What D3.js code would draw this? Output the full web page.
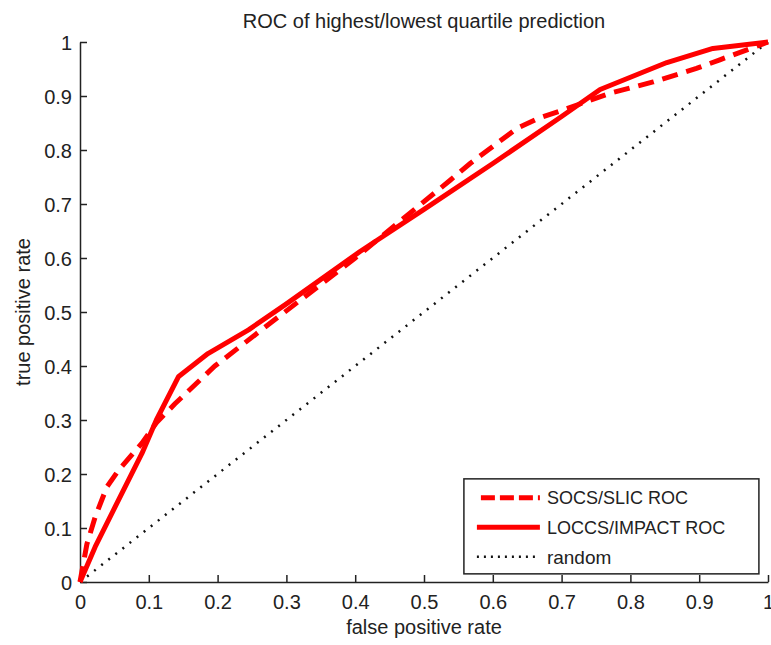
<!DOCTYPE html>
<html>
<head>
<meta charset="utf-8">
<script src="https://cdn.jsdelivr.net/npm/d3@7"></script>
<style>
  body { margin: 0; background: #fff; }
  svg text { font-family: "Liberation Sans", Arial, sans-serif; fill: #222; }
</style>
</head>
<body>
<div id="chart"></div>
<script>
// ROC curves
const socsFpr = [0, 0.01, 0.022, 0.039, 0.056, 0.09, 0.111, 0.138, 0.196, 0.264, 0.4, 0.538, 0.567, 0.635, 0.665, 0.702, 0.77, 0.833, 0.896, 0.93, 1];
const socsTpr = [0, 0.07, 0.12, 0.176, 0.207, 0.257, 0.295, 0.33, 0.40, 0.467, 0.6, 0.744, 0.775, 0.84, 0.858, 0.874, 0.905, 0.926, 0.951, 0.967, 1];
const loccsFpr = [0, 0.022, 0.051, 0.09, 0.111, 0.143, 0.186, 0.245, 0.3, 0.407, 0.5, 0.6, 0.7, 0.756, 0.853, 0.92, 1];
const loccsTpr = [0, 0.065, 0.139, 0.238, 0.30, 0.38, 0.423, 0.467, 0.515, 0.612, 0.69, 0.775, 0.862, 0.912, 0.962, 0.988, 1];
const randomFpr = [0, 1];
const randomTpr = [0, 1];
const ticks = [0, 0.1, 0.2, 0.3, 0.4, 0.5, 0.6, 0.7, 0.8, 0.9, 1];
const seriesNames = ["SOCS/SLIC ROC", "LOCCS/IMPACT ROC", "random"];

const W = 771, H = 645;
const margin = { top: 42, right: 3, bottom: 63, left: 80 },
      width = W - margin.left - margin.right,
      height = H - margin.top - margin.bottom;

const svg = d3.select("#chart")
  .append("svg")
    .attr("width", W)
    .attr("height", H)
  .append("g")
    .attr("transform", `translate(${margin.left},${margin.top})`);

const x = d3.scaleLinear().domain([0, 1]).range([0, width]);
const y = d3.scaleLinear().domain([0, 1]).range([height, 0]);

const fmt = d => d === 0 || d === 1 ? String(d) : d3.format(".1f")(d);

// axes, ticks pointing inward
const xAxis = svg.append("g")
  .attr("transform", `translate(0,${height})`)
  .call(d3.axisBottom(x).tickValues(ticks).tickFormat(fmt).tickSizeInner(-7).tickSizeOuter(0).tickPadding(13));
const yAxis = svg.append("g")
  .call(d3.axisLeft(y).tickValues(ticks).tickFormat(fmt).tickSizeInner(-7).tickSizeOuter(0).tickPadding(8));
[xAxis, yAxis].forEach(a => {
  a.selectAll("path, line").attr("stroke", "#222").attr("stroke-width", 1.5);
  a.selectAll("text").style("font-size", "20px").attr("fill", "#222");
});
yAxis.selectAll("text").attr("dy", "0.36em");

// labels and title
svg.append("text")
  .attr("x", width / 2)
  .attr("y", height + 52)
  .attr("text-anchor", "middle")
  .style("font-size", "20px")
  .text("false positive rate");

svg.append("text")
  .attr("transform", "rotate(-90)")
  .attr("x", -height / 2)
  .attr("y", -50)
  .attr("text-anchor", "middle")
  .style("font-size", "20px")
  .text("true positive rate");

svg.append("text")
  .attr("x", width / 2)
  .attr("y", -14)
  .attr("text-anchor", "middle")
  .style("font-size", "20px")
  .text("ROC of highest/lowest quartile prediction");

const line = d3.line().x(d => x(d[0])).y(d => y(d[1]));

// random diagonal
svg.append("path")
  .datum(d3.zip(randomFpr, randomTpr))
  .attr("fill", "none")
  .attr("stroke", "#111")
  .attr("stroke-width", 2.5)
  .attr("stroke-dasharray", "2,7")
  .attr("d", line);

// LOCCS/IMPACT (solid)
svg.append("path")
  .datum(d3.zip(loccsFpr, loccsTpr))
  .attr("fill", "none")
  .attr("stroke", "#f00")
  .attr("stroke-width", 5)
  .attr("stroke-linejoin", "round")
  .attr("d", line);

// SOCS/SLIC (dashed)
svg.append("path")
  .datum(d3.zip(socsFpr, socsTpr))
  .attr("fill", "none")
  .attr("stroke", "#f00")
  .attr("stroke-width", 5)
  .attr("stroke-dasharray", "16,9")
  .attr("d", line);

// legend
const legend = svg.append("g")
  .attr("transform", `translate(${x(0.558)},${y(0.191)})`);
legend.append("rect")
  .attr("width", 295)
  .attr("height", 95)
  .attr("fill", "#fff")
  .attr("stroke", "#222")
  .attr("stroke-width", 1.5);

const styles = [
  { dash: "14,5", w: 5, c: "#f00" },
  { dash: null, w: 5, c: "#f00" },
  { dash: "2,5", w: 2.5, c: "#111" }
];
seriesNames.forEach((name, i) => {
  const row = legend.append("g").attr("transform", `translate(0,${19 + i * 29.5})`);
  row.append("line")
    .attr("x1", i === 0 ? 17 : 13).attr("x2", 76)
    .attr("stroke", styles[i].c)
    .attr("stroke-width", styles[i].w)
    .attr("stroke-dasharray", styles[i].dash);
  row.append("text")
    .attr("x", 83)
    .attr("dy", "0.35em")
    .style("font-size", i === 2 ? "19px" : "18px")
    .text(name);
});
</script>
</body>
</html>
